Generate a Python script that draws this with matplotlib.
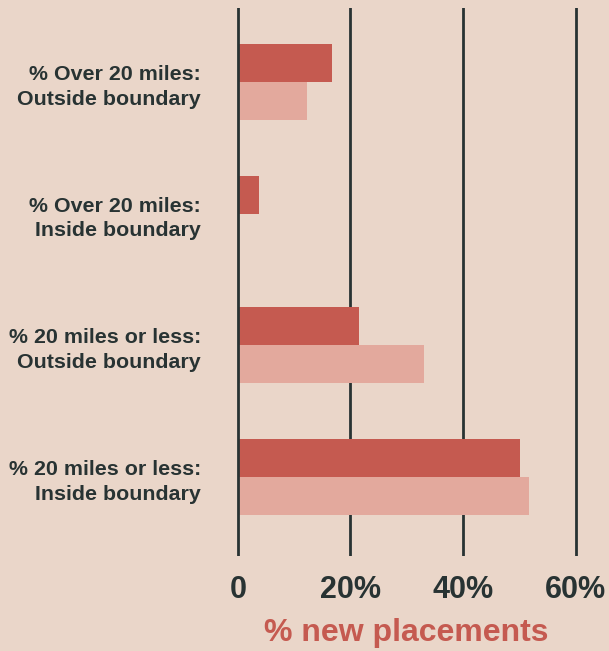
import matplotlib
matplotlib.use("Agg")
import matplotlib.pyplot as plt
import numpy as np

categories = [
    "% Over 20 miles:\nOutside boundary",
    "% Over 20 miles:\nInside boundary",
    "% 20 miles or less:\nOutside boundary",
    "% 20 miles or less:\nInside boundary",
]
series_a = [16.7, 3.8, 21.5, 50.2]   # darker bars
series_b = [12.2, 0.0, 33.0, 51.7]   # lighter bars
tick_values = [0, 20, 40, 60]
tick_labels = ["0", "20%", "40%", "60%"]

BG = "#EAD6C9"
DARK = "#C55A50"
LIGHT = "#E3A99D"
INK = "#283333"

plt.rcParams["font.family"] = ["Liberation Sans", "DejaVu Sans"]
plt.rcParams["font.weight"] = "bold"

fig = plt.figure(figsize=(6.09, 6.51), dpi=100, facecolor=BG)
W, H = 609, 651
left, right = 237 / W, 600 / W
top, bottom = 1 - 8 / H, 1 - 556 / H
ax = fig.add_axes([left, bottom, right - left, top - bottom])
ax.set_facecolor(BG)

y = np.arange(len(categories))
h = 0.2886
ax.barh(y - h / 2, series_a, height=h, color=DARK, zorder=3)
ax.barh(y + h / 2, series_b, height=h, color=LIGHT, zorder=3)

ax.set_xlim(-0.15, 60 * (600 - 237) / (575.3 - 236.7))
ax.set_ylim(3.6, -0.562)

for v in tick_values:
    ax.axvline(v, color=INK, lw=2.0, zorder=4 if v == 0 else 2)

ax.set_xticks(tick_values)
ax.set_xticklabels(tick_labels, fontsize=22, fontweight="bold", color=INK)
ax.set_yticks(y)
ax.set_yticklabels(categories, fontsize=15.4, fontweight="bold", color=INK,
                   linespacing=1.38, ha="right")
ax.tick_params(axis="x", length=0, pad=14)
ax.tick_params(axis="y", length=0, pad=26)
for s in ax.spines.values():
    s.set_visible(False)

ax.set_xlabel("% new placements", fontsize=23, fontweight="bold", color=DARK)
ax.xaxis.label.set_va("center")
ax.xaxis.set_label_coords((406.5 - 237) / (600 - 237), -(633 - 556) / (556 - 8))

fig.savefig("out.png", dpi=100, facecolor=BG)
